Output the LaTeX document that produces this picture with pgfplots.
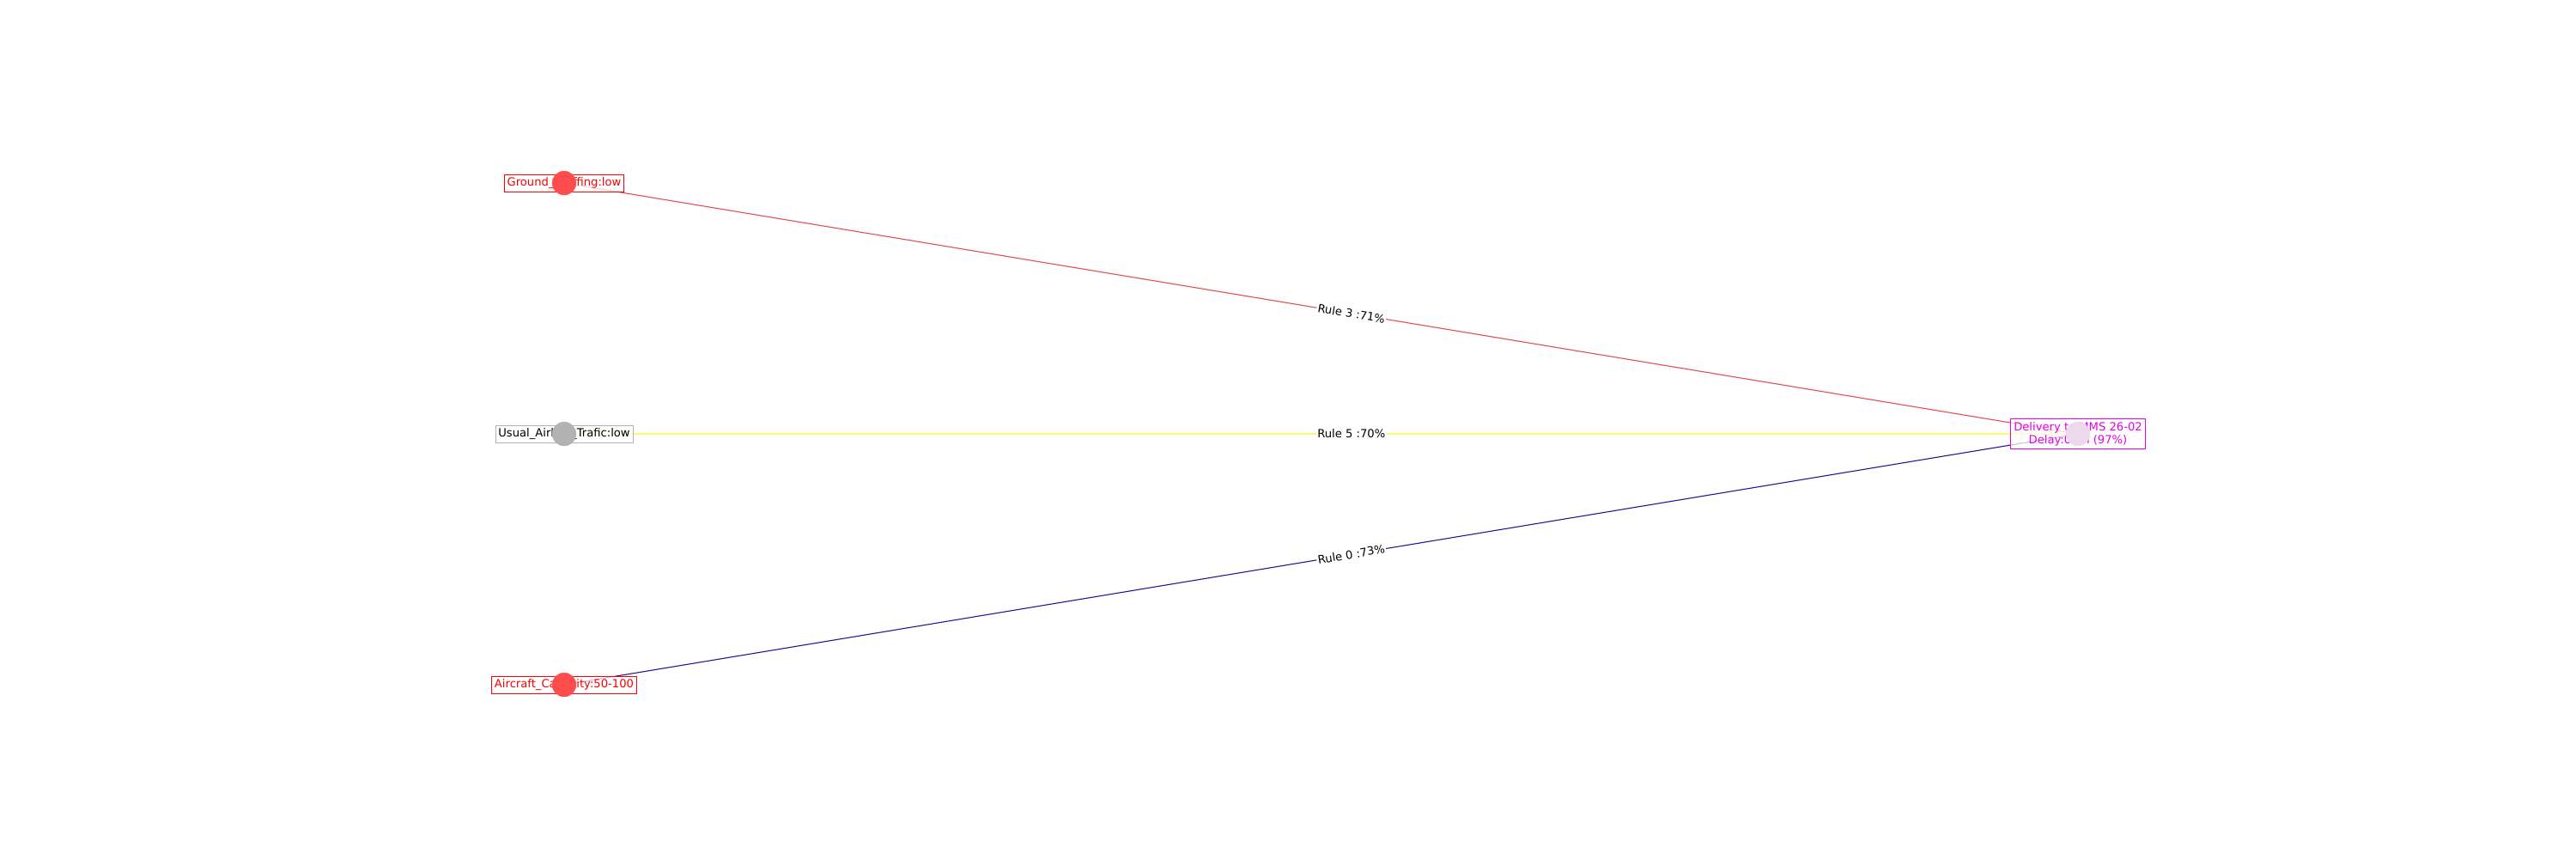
\documentclass[border=0pt]{standalone}
\usepackage{pgfplots}
\pgfplotsset{compat=1.18}
\usepackage{fontspec}
\setmainfont{DejaVu Sans}
\definecolor{redE}{RGB}{225,80,80}
\definecolor{yelE}{RGB}{250,250,110}
\definecolor{navE}{RGB}{40,20,150}
\definecolor{mag}{RGB}{230,0,230}
\begin{document}
\begin{tikzpicture}
\begin{axis}[scale only axis, width=2168pt, height=722.7pt, xmin=0, xmax=3000, ymin=0, ymax=1000, y dir=reverse, hide axis, clip=false]
\path[draw=none] (axis cs:0,0) rectangle (axis cs:3000,1000);
\addplot[redE, line width=0.8pt] coordinates {(657,213) (2420,505)} node[pos=0.52,sloped,fill=white,inner sep=1pt,text=black,font=\fontsize{9.5}{11}\selectfont]{Rule 3 :71\%};
\addplot[yelE, line width=1pt] coordinates {(657,505) (2420,505)} node[pos=0.52,fill=white,inner sep=1pt,text=black,font=\fontsize{9.5}{11}\selectfont]{Rule 5 :70\%};
\addplot[navE, line width=0.8pt] coordinates {(657,797) (2420,505)} node[pos=0.52,sloped,fill=white,inner sep=1pt,text=black,font=\fontsize{9.5}{11}\selectfont]{Rule 0 :73\%};
\addplot[only marks, mark=*, mark size=10pt, red!80, mark options={draw=red!70, fill=red!70}] coordinates {(657,213) (657,797)};
\addplot[only marks, mark=*, mark size=10pt, gray, mark options={draw=gray!60, fill=gray!60}] coordinates {(657,505)};
\addplot[only marks, mark=*, mark size=10pt, violet!20, mark options={draw=violet!15, fill=violet!15}] coordinates {(2420,505)};
\tikzset{lab/.style={fill=white, fill opacity=0.75, text opacity=1, draw, draw opacity=1, line width=0.5pt, inner sep=2.5pt, font=\fontsize{9.5}{11}\selectfont, align=center}}
\node[lab, draw=red, text=red] at (axis cs:657,213) {Ground\_Staffing:low};
\node[lab, draw=gray!60, text=black] at (axis cs:657,505) {Usual\_Airline\_Trafic:low};
\node[lab, draw=red, text=red] at (axis cs:657,797) {Aircraft\_Capacity:50-100};
\node[lab, draw=mag, text=mag] at (axis cs:2420,505) {Delivery to MMS 26-02\\Delay:0-1h (97\%)};
\end{axis}
\end{tikzpicture}
\end{document}
